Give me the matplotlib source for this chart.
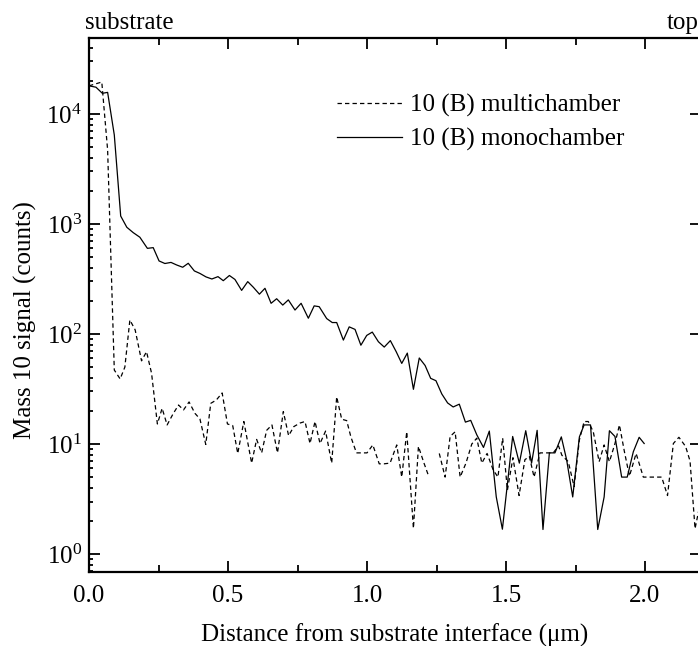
import matplotlib
matplotlib.use("Agg")
import matplotlib.pyplot as plt
import numpy as np
from matplotlib.ticker import MultipleLocator, LogLocator, FormatStrFormatter, NullFormatter

# boron (mass 10) SIMS depth profiles
depth_multi = [
    0.000, 0.022, 0.046, 0.067, 0.091, 0.112, 0.129, 0.147, 0.166, 0.189,
    0.207, 0.225, 0.246, 0.263, 0.281, 0.302, 0.322, 0.340, 0.360, 0.381,
    0.399, 0.420, 0.438, 0.458, 0.479, 0.498, 0.517, 0.535, 0.557, 0.585,
    0.603, 0.621, 0.639, 0.658, 0.678, 0.699, 0.718, 0.737, 0.759, 0.777,
    0.795, 0.813, 0.831, 0.851, 0.873, 0.891, 0.909, 0.927, 0.942, 0.962,
    0.980, 1.000, 1.021, 1.044, 1.061, 1.083, 1.107, 1.125, 1.143, 1.167,
    1.185, 1.205, 1.223, 1.241, 1.260, 1.281, 1.299, 1.317, 1.335, 1.356,
    1.377, 1.395, 1.413, 1.432, 1.454, 1.471, 1.488, 1.505, 1.525, 1.547,
    1.568, 1.584, 1.601, 1.622, 1.644, 1.670, 1.689, 1.701, 1.724, 1.745,
    1.764, 1.781, 1.796, 1.814, 1.835, 1.853, 1.872, 1.892, 1.908, 1.926,
    1.944, 1.968, 1.994, 2.018, 2.040, 2.060, 2.081, 2.102, 2.122, 2.146,
    2.162, 2.180, 2.200,
]
counts_multi = [
    18000, 18700, 19500, 4700, 47, 39, 50, 134, 109, 57,
    69, 44, 15.2, 21.1, 14.9, 18.7, 22.6, 20.4, 24.1, 19.0,
    16.9, 9.9, 23.4, 25.1, 29.1, 15.2, 14.7, 8.2, 16.0, 6.7,
    11.0, 8.3, 13.3, 14.9, 8.3, 19.7, 11.9, 14.4, 15.5, 16.0,
    10.1, 16.0, 10.1, 13.1, 6.7, 26.8, 16.8, 16.3, 11.6, 8.3,
    8.3, 8.3, 9.8, 6.6, 6.6, 6.7, 9.8, 5.0, 12.9, 1.71,
    9.5, 6.7, 5.0, np.nan, 8.2, 5.0, 11.7, 12.9, 5.0, 6.7,
    10.0, 11.3, 6.7, 8.2, 5.8, 5.0, 11.3, 3.8, 7.5, 3.4,
    7.2, 7.7, 5.0, 8.3, 8.3, 8.3, 9.6, 7.9, 6.9, 4.1,
    10.9, 16.0, 16.0, 12.9, 6.9, 9.8, 6.9, 10.1, 14.9, 8.5,
    5.1, 8.2, 5.0, 5.0, 5.0, 5.0, 3.4, 10.1, 11.5, 9.5,
    7.0, 1.7, 3.0,
]

depth_mono = [
    0.000, 0.025, 0.048, 0.067, 0.091, 0.114, 0.136, 0.159, 0.183, 0.210,
    0.231, 0.252, 0.273, 0.295, 0.315, 0.337, 0.357, 0.379, 0.399, 0.421,
    0.442, 0.464, 0.483, 0.505, 0.525, 0.549, 0.571, 0.591, 0.613, 0.633,
    0.655, 0.675, 0.697, 0.717, 0.741, 0.763, 0.789, 0.810, 0.828, 0.855,
    0.875, 0.891, 0.915, 0.936, 0.957, 0.978, 0.999, 1.019, 1.041, 1.062,
    1.084, 1.105, 1.125, 1.145, 1.167, 1.188, 1.209, 1.229, 1.248, 1.269,
    1.290, 1.310, 1.332, 1.354, 1.373, 1.395, 1.419, 1.440, 1.465, 1.487,
    1.524, 1.548, 1.571, 1.592, 1.612, 1.633, 1.656, 1.676, 1.699, 1.718,
    1.740, 1.764, 1.781, 1.804, 1.830, 1.853, 1.872, 1.892, 1.916, 1.936,
    1.958, 1.979, 1.997,
]
counts_mono = [
    18000, 17500, 15400, 15700, 6440, 1180, 933, 834, 757, 600,
    609, 461, 437, 447, 424, 404, 439, 374, 355, 330,
    316, 332, 305, 340, 313, 249, 299, 266, 230, 260,
    190, 209, 183, 204, 165, 190, 139, 180, 177, 138,
    127, 127, 88, 116, 110, 79, 97, 104, 85, 76,
    87, 69, 54, 67, 31.4, 60.5, 51.7, 39.5, 37.6, 28.5,
    23.6, 21.7, 23.0, 15.8, 16.4, 12.1, 9.3, 13.1, 3.3, 1.68,
    11.7, 6.7, 13.2, 6.7, 13.3, 1.67, 8.3, 8.3, 11.6, 7.2,
    3.3, 11.6, 14.9, 14.9, 1.67, 3.3, 13.2, 11.7, 5.0, 5.0,
    8.5, 11.5, 10.1,
]

plt.rcParams["font.family"] = "serif"
plt.rcParams["font.serif"] = ["Liberation Serif", "DejaVu Serif"]
plt.rcParams["mathtext.fontset"] = "stix"

fig = plt.figure(figsize=(6.98, 6.46), dpi=100)
ax = fig.add_axes([89 / 698, 74 / 646, 611.6 / 698, 534 / 646])

ax.plot(depth_multi, counts_multi, color="black", lw=0.9,
        linestyle=(0, (3.5, 2.5)), label="10 (B) multichamber")
ax.plot(depth_mono, counts_mono, color="black", lw=0.9,
        label="10 (B) monochamber")

ax.set_yscale("log")
ax.set_xlim(0, 2.2)
ax.set_ylim(0.686, 49000)

ax.xaxis.set_major_locator(MultipleLocator(0.5))
ax.xaxis.set_minor_locator(MultipleLocator(0.25))
ax.xaxis.set_major_formatter(FormatStrFormatter("%.1f"))
ax.yaxis.set_major_locator(LogLocator(base=10, numticks=10))
ax.yaxis.set_minor_locator(LogLocator(base=10, subs=np.arange(2, 10), numticks=20))
ax.yaxis.set_minor_formatter(NullFormatter())

ax.tick_params(which="both", direction="in", top=True, right=True,
               labelsize=18, width=1.3)
ax.tick_params(which="major", length=8)
ax.tick_params(axis="x", which="minor", length=5)
ax.tick_params(axis="y", which="minor", length=3, right=False)
ax.tick_params(axis="x", pad=9)
ax.tick_params(axis="y", pad=5)
for s in ax.spines.values():
    s.set_linewidth(1.6)

ax.set_xlabel("Distance from substrate interface (μm)", fontsize=18)
ax.xaxis.set_label_coords(0.5, -0.097)
ax.set_ylabel("Mass 10 signal (counts)", fontsize=18)
ax.yaxis.set_label_coords(-0.085, 0.472)

ax.legend(loc="upper left", bbox_to_anchor=(0.4055, 0.895), frameon=False,
          fontsize=18, handlelength=2.6, handletextpad=0.32,
          labelspacing=0.44, borderpad=0, borderaxespad=0)

fig.text(85 / 698, 1 - 23 / 646, "substrate", fontsize=18, va="center", ha="left")
fig.text(667 / 698, 1 - 23 / 646, "top", fontsize=18, va="center", ha="left")

fig.savefig("out.png", dpi=100)
